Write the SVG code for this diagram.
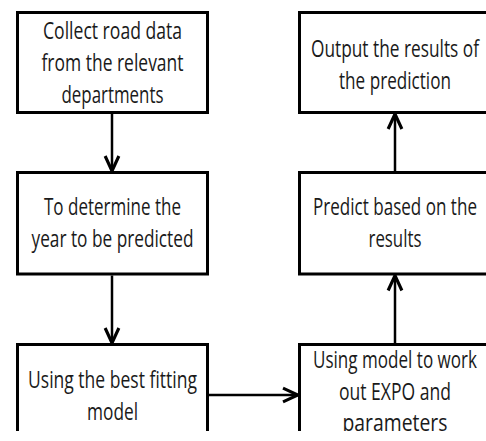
<svg xmlns="http://www.w3.org/2000/svg" width="486" height="441" viewBox="0 0 486 441">
<style>
.box{fill:#fff;stroke:#000;stroke-width:3}
.t{font-family:"Liberation Sans Narrow","Open Sans","Liberation Sans",sans-serif;font-size:23px;fill:#1a1a1a;text-anchor:middle}
.c{fill:none;stroke:#000;stroke-width:2.5}
</style>
<defs>
<marker id="ah" markerUnits="userSpaceOnUse" markerWidth="20" markerHeight="20" viewBox="-14 -8 16 16" refX="0" refY="0" orient="auto">
<path d="M-12,-5.5 L0,0 L-12,5.5" fill="none" stroke="#000" stroke-width="2.5"/>
</marker>
<clipPath id="cut"><rect x="0" y="0" width="486" height="431"/></clipPath>
</defs>
<rect width="486" height="441" fill="#fff"/>
<g clip-path="url(#cut)">
<g id="n1">
<rect class="box" x="17.5" y="12.5" width="190" height="100"/>
<text class="t" x="112.5" y="39" textLength="139" lengthAdjust="spacingAndGlyphs">Collect road data</text>
<text class="t" x="112.5" y="71" textLength="142" lengthAdjust="spacingAndGlyphs">from the relevant</text>
<text class="t" x="112.5" y="103" textLength="102" lengthAdjust="spacingAndGlyphs">departments</text>
</g>
<g id="n2">
<rect class="box" x="17.5" y="172.5" width="190" height="101.5"/>
<text class="t" x="112.5" y="215" textLength="137" lengthAdjust="spacingAndGlyphs">To determine the</text>
<text class="t" x="112.5" y="247" textLength="162" lengthAdjust="spacingAndGlyphs">year to be predicted</text>
</g>
<g id="n3">
<path class="box" d="M17.5,440 V344.5 H207.5 V440"/>
<text class="t" x="112.5" y="388" textLength="169" lengthAdjust="spacingAndGlyphs">Using the best fitting</text>
<text class="t" x="112.5" y="420" textLength="51" lengthAdjust="spacingAndGlyphs">model</text>
</g>
<g id="n4">
<path class="box" d="M487,344.5 H299.5 V440"/>
<text class="t" x="395" y="368" textLength="164" lengthAdjust="spacingAndGlyphs">Using model to work</text>
<text class="t" x="395" y="400" textLength="112" lengthAdjust="spacingAndGlyphs">out EXPO and</text>
<text class="t" x="395" y="431" textLength="105" lengthAdjust="spacingAndGlyphs">parameters</text>
</g>
<g id="n5">
<path class="box" d="M487,172.5 H299.5 V274 H487"/>
<text class="t" x="395" y="215" textLength="164" lengthAdjust="spacingAndGlyphs">Predict based on the</text>
<text class="t" x="395" y="247" textLength="53" lengthAdjust="spacingAndGlyphs">results</text>
</g>
<g id="n6">
<path class="box" d="M487,12.5 H299.5 V112.5 H487"/>
<text class="t" x="395" y="57" textLength="168" lengthAdjust="spacingAndGlyphs">Output the results of</text>
<text class="t" x="395" y="89" textLength="112" lengthAdjust="spacingAndGlyphs">the prediction</text>
</g>
<g id="connectors">
<line class="c" x1="112" y1="114" x2="112" y2="171" marker-end="url(#ah)"/>
<line class="c" x1="112" y1="275.5" x2="112" y2="343" marker-end="url(#ah)"/>
<line class="c" x1="209" y1="395" x2="298" y2="395" marker-end="url(#ah)"/>
<line class="c" x1="395" y1="343" x2="395" y2="275.5" marker-end="url(#ah)"/>
<line class="c" x1="395" y1="171" x2="395" y2="114" marker-end="url(#ah)"/>
</g>
</g>
</svg>
